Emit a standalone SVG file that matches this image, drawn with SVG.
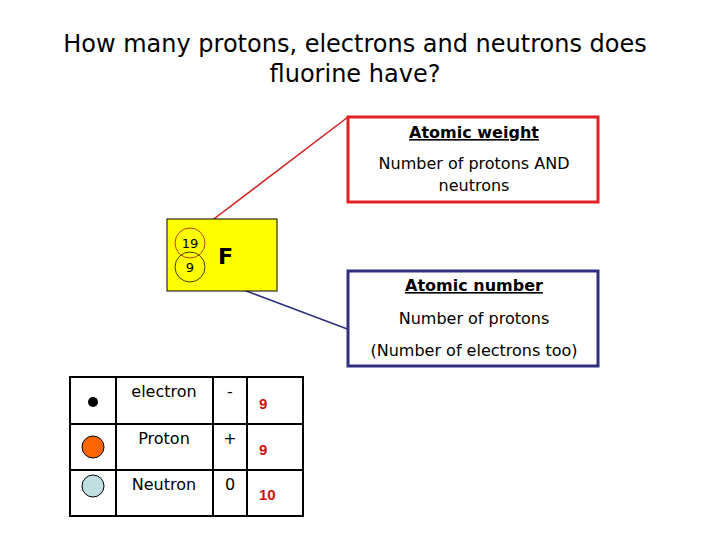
<svg xmlns="http://www.w3.org/2000/svg" width="720" height="540" viewBox="0 0 720 540">
<style>
text{font-family:"Comic Sans MS","DejaVu Sans",sans-serif;fill:#000}
.t{font-size:16px;text-anchor:middle}
.n{font-size:15px;font-weight:bold;fill:#d01010;font-family:"Liberation Sans",sans-serif}
.g{stroke:#000;stroke-width:2;fill:none}
</style>
<rect width="720" height="540" fill="#fff"/>
<text x="355" y="52" font-size="24" text-anchor="middle">How many protons, electrons and neutrons does</text>
<text x="355" y="82" font-size="24" text-anchor="middle">fluorine have?</text>
<g id="connectors">
<line x1="202" y1="228" x2="348" y2="117" stroke="#d02020" stroke-width="1.5"/>
<line x1="209" y1="277" x2="350" y2="330" stroke="#303080" stroke-width="1.5"/>
</g>
<g id="element">
<rect x="167" y="219" width="110" height="72" fill="#ffff00" stroke="#000"/>
<circle cx="190" cy="243" r="15" fill="none" stroke="#c04000"/>
<circle cx="190" cy="267" r="15" fill="none" stroke="#404000"/>
<text x="190" y="248" font-size="13" text-anchor="middle" font-family="Liberation Serif,serif">19</text>
<text x="190" y="272" font-size="13" text-anchor="middle" font-family="Liberation Serif,serif">9</text>
<text x="218" y="264" font-size="22" font-weight="bold" font-family="Liberation Sans,sans-serif">F</text>
</g>
<g id="weight">
<rect x="348" y="117" width="250" height="85" fill="#fff" stroke="#e02020" stroke-width="3"/>
<text class="t" x="474" y="138" text-decoration="underline" font-weight="bold">Atomic weight</text>
<text class="t" x="474" y="169">Number of protons AND</text>
<text class="t" x="474" y="191">neutrons</text>
</g>
<g id="number">
<rect x="348" y="271" width="250" height="95" fill="#fff" stroke="#303080" stroke-width="3"/>
<text class="t" x="474" y="291" text-decoration="underline" font-weight="bold">Atomic number</text>
<text class="t" x="474" y="324">Number of protons</text>
<text class="t" x="474" y="356">(Number of electrons too)</text>
</g>
<g id="table">
<rect x="70" y="377" width="233" height="139" class="g" stroke-width="3"/>
<line class="g" x1="116" y1="377" x2="116" y2="516"/>
<line class="g" x1="213" y1="377" x2="213" y2="516"/>
<line class="g" x1="247" y1="377" x2="247" y2="516"/>
<line class="g" x1="70" y1="424" x2="303" y2="424"/>
<line class="g" x1="70" y1="470" x2="303" y2="470"/>
<circle cx="93" cy="402" r="5" fill="#000"/>
<circle cx="93" cy="447" r="11" fill="#ff6600" stroke="#000"/>
<circle cx="93" cy="486" r="11" fill="#bfdfe0" stroke="#000"/>
<text class="t" x="164" y="397">electron</text>
<text class="t" x="164" y="444">Proton</text>
<text class="t" x="164" y="490">Neutron</text>
<text class="t" x="230" y="397">-</text>
<text class="t" x="230" y="444">+</text>
<text class="t" x="230" y="490">0</text>
<text class="n" x="259" y="409">9</text>
<text class="n" x="259" y="455">9</text>
<text class="n" x="259" y="500">10</text>
</g>
</svg>
